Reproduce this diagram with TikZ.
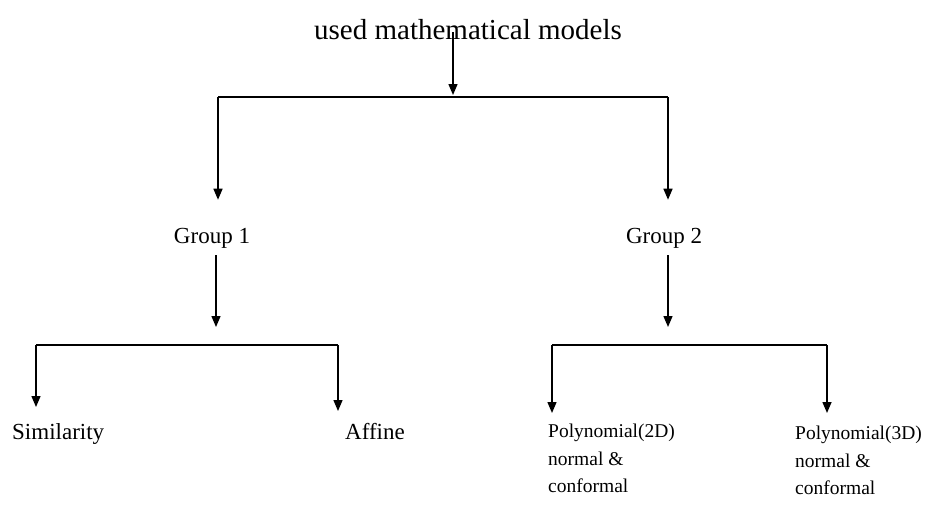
\documentclass[tikz,border=0pt]{standalone}
\usepackage{fontspec}
\setmainfont{Liberation Serif}
\usetikzlibrary{arrows.meta,positioning}

\begin{document}
\begin{tikzpicture}[x=1pt, y=-1pt,
    lbl/.style={inner sep=0pt, font=\fontsize{23}{27}\selectfont},
    multi/.style={inner sep=0pt, align=left, font=\fontsize{19.5}{27.5}\selectfont},
    arrow/.style={-{Triangle[length=11pt,width=9pt]}, line width=1.4pt},
    bar/.style={line width=1.4pt}
]
    \useasboundingbox (0,0) rectangle (925,509);

    \node[inner sep=0pt, font=\fontsize{29}{32}\selectfont] (title) at (468,30) {used mathematical models};

    \node[lbl] (grpone) at (212,238) {Group 1};
    \node[lbl] (grptwo) at (664,238) {Group 2};

    \node[lbl, anchor=north west] (simil) at (12,423) {Similarity};
    \node[lbl, anchor=north west] (affine) at (345,423) {Affine};
    \node[multi, anchor=north west] (polytwo) at (548,424) {Polynomial(2D)\\normal \&\\conformal};
    \node[multi, anchor=north west] (polythree) at (795,426) {Polynomial(3D)\\normal \&\\conformal};

    % branch points
    \coordinate (top) at (453,97);
    \coordinate (topl) at (218,97);
    \coordinate (topr) at (668,97);
    \coordinate (onel) at (36,345);
    \coordinate (oner) at (338,345);
    \coordinate (onemid) at (216,345);
    \coordinate (twol) at (552,345);
    \coordinate (twor) at (827,345);

    % first level
    \draw[arrow] ([yshift=8pt]title.south -| top) -- ([yshift=2pt]top);
    \draw[bar] (topl) -- (topr);
    \draw[arrow] (topl) -- ([yshift=28pt]grpone.north -| topl);
    \draw[arrow] (topr) -- ([yshift=28pt]grptwo.north -| topr);

    % second level
    \draw[arrow] ([yshift=-7pt]grpone.south -| onemid) -- ([yshift=18pt]onemid);
    \draw[arrow] ([yshift=-7pt]grptwo.south -| topr) -- ([yshift=18pt]onemid -| topr);
    \draw[bar] (onel) -- (oner);
    \draw[bar] (twol) -- (twor);

    \draw[arrow] (onel) -- ([yshift=16pt]simil.north -| onel);
    \draw[arrow] (oner) -- ([yshift=12pt]affine.north -| oner);
    \draw[arrow] (twol) -- ([yshift=11pt]polytwo.north -| twol);
    \draw[arrow] (twor) -- ([yshift=13pt]polythree.north -| twor);
\end{tikzpicture}
\end{document}
